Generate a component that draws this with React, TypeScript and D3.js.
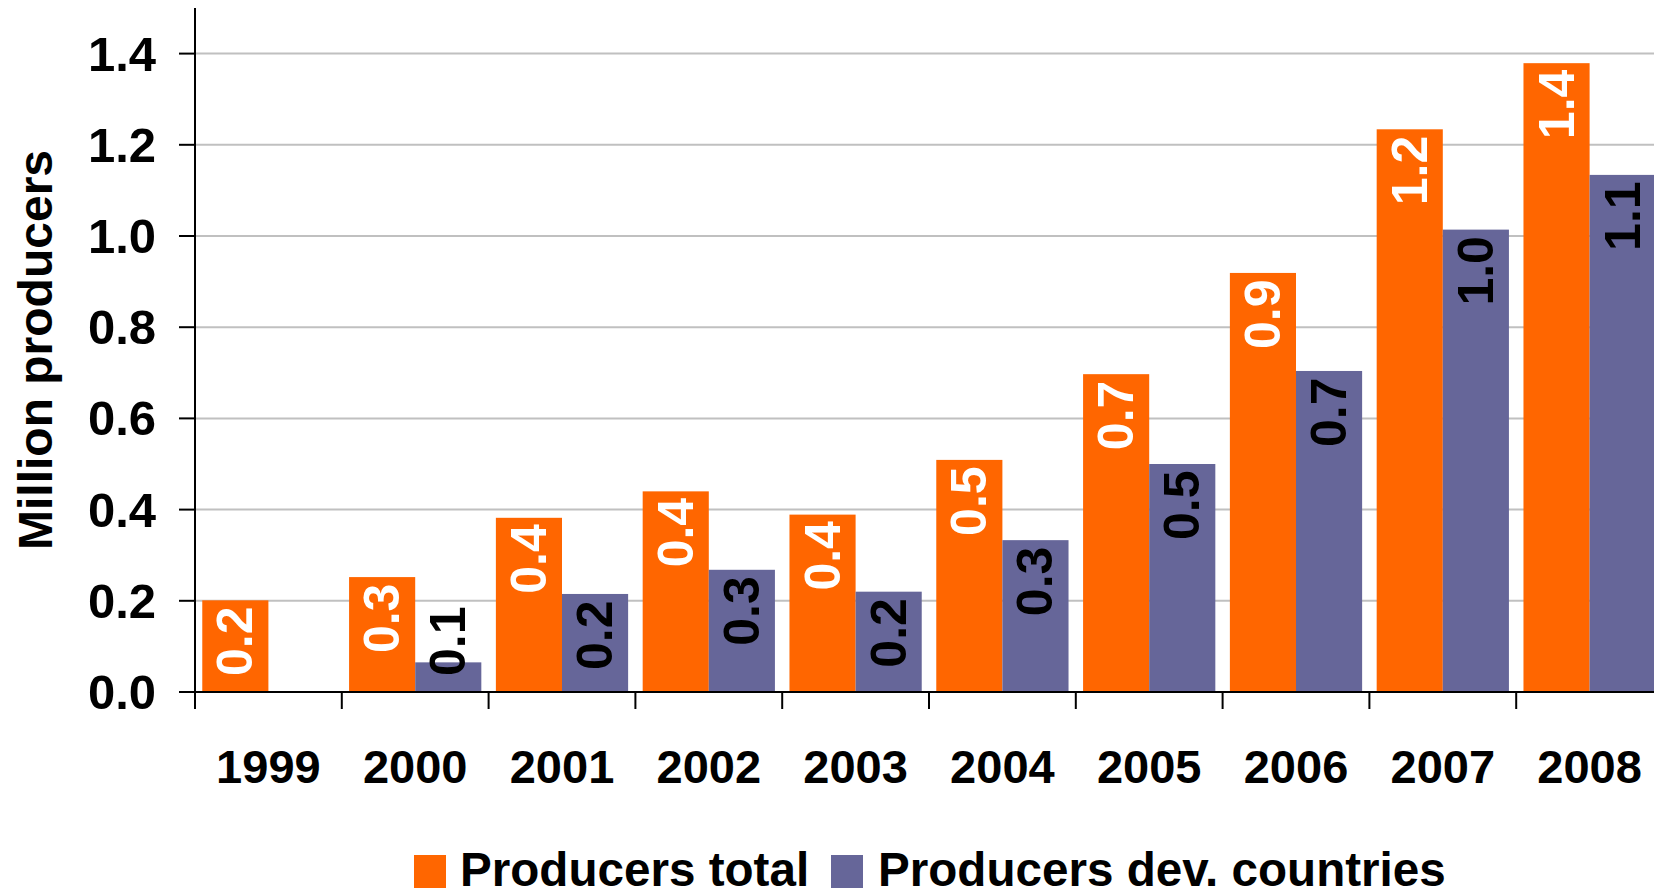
import React from "react";
import * as d3 from "d3";

const WIDTH = 1654;
const HEIGHT = 892;
const MARGIN = { left: 195, top: 8, bottom: 200 };
const STEP = 146.8;
const FONT = "'Liberation Sans', Arial, Helvetica, sans-serif";

const years = ["1999", "2000", "2001", "2002", "2003", "2004", "2005", "2006", "2007", "2008"];
const producersTotal = [0.201, 0.252, 0.382, 0.44, 0.389, 0.509, 0.697, 0.919, 1.234, 1.379];
const producersDev = [null, 0.065, 0.215, 0.268, 0.22, 0.333, 0.5, 0.704, 1.014, 1.134];
const yTicks = [0, 0.2, 0.4, 0.6, 0.8, 1.0, 1.2, 1.4];

const series = [
  { key: "total", name: "Producers total", values: producersTotal, color: "#ff6600", labelColor: "#ffffff" },
  { key: "dev", name: "Producers dev. countries", values: producersDev, color: "#666699", labelColor: "#000000" },
];

export default function App() {
  const baseY = HEIGHT - MARGIN.bottom;

  const x = d3
    .scaleBand()
    .domain(years)
    .range([MARGIN.left, MARGIN.left + STEP * years.length])
    .padding(0);

  const xSub = d3
    .scaleBand()
    .domain(series.map((s) => s.key))
    .range([0, x.bandwidth()])
    .paddingInner(0)
    .paddingOuter(0.11);

  const y = d3.scaleLinear().domain([0, 1.5]).range([baseY, MARGIN.top]);
  const fmt = d3.format(".1f");

  const labelLen = 66;

  const bars = series.map((s) =>
    years.map((yr, i) => {
      const v = s.values[i];
      if (v == null) return null;
      const bx = (x(yr) ?? 0) + (xSub(s.key) ?? 0);
      const top = y(v);
      const cx = bx + xSub.bandwidth() / 2;
      // label sits just inside the bar end, but never lower than near the base
      const textStart = Math.min(top + 10 + labelLen, baseY - 16);
      return (
        <g key={s.key + yr}>
          <rect x={bx} y={top} width={xSub.bandwidth()} height={baseY - top} fill={s.color} />
          <text
            transform={`translate(${cx}, ${textStart}) rotate(-90)`}
            textAnchor="start"
            dominantBaseline="central"
            fontSize={50}
            fontWeight="bold"
            fill={s.labelColor}
          >
            {fmt(v)}
          </text>
        </g>
      );
    })
  );

  const boundaries = d3.range(years.length + 1).map((i) => MARGIN.left + i * x.step());

  return (
    <svg
      width={WIDTH}
      height={HEIGHT}
      style={{ position: "absolute", left: 0, top: 0, background: "#fff" }}
      fontFamily={FONT}
    >
      {/* gridlines */}
      {yTicks.filter((t) => t > 0).map((t) => (
        <line key={t} x1={MARGIN.left} x2={WIDTH} y1={y(t)} y2={y(t)} stroke="#c0c0c0" strokeWidth={2} />
      ))}

      {bars}

      {/* y axis */}
      <line x1={MARGIN.left} x2={MARGIN.left} y1={MARGIN.top} y2={baseY + 17} stroke="#000" strokeWidth={2} />
      {yTicks.map((t) => (
        <g key={t}>
          <line x1={MARGIN.left - 16} x2={MARGIN.left} y1={y(t)} y2={y(t)} stroke="#000" strokeWidth={2} />
          <text
            x={156}
            y={y(t)}
            textAnchor="end"
            dominantBaseline="central"
            fontSize={49}
            fontWeight="bold"
          >
            {fmt(t)}
          </text>
        </g>
      ))}

      {/* x axis */}
      <line x1={MARGIN.left - 16} x2={WIDTH} y1={baseY} y2={baseY} stroke="#000" strokeWidth={2} />
      {boundaries.map((bx, i) => (
        <line key={i} x1={bx} x2={bx} y1={baseY} y2={baseY + 17} stroke="#000" strokeWidth={2} />
      ))}
      {years.map((yr) => (
        <text
          key={yr}
          x={(x(yr) ?? 0) + x.bandwidth() / 2}
          y={783}
          textAnchor="middle"
          fontSize={47}
          fontWeight="bold"
        >
          {yr}
        </text>
      ))}

      {/* y axis title */}
      <text
        transform="translate(35, 350) rotate(-90)"
        textAnchor="middle"
        dominantBaseline="central"
        fontSize={48}
        fontWeight="bold"
      >
        Million producers
      </text>

      {/* legend */}
      <rect x={414} y={855} width={32} height={33} fill={series[0].color} />
      <text x={460} y={886} fontSize={47.6} fontWeight="bold">
        {series[0].name}
      </text>
      <rect x={831} y={855} width={32} height={33} fill={series[1].color} />
      <text x={878} y={886} fontSize={47.6} fontWeight="bold">
        {series[1].name}
      </text>
    </svg>
  );
}
